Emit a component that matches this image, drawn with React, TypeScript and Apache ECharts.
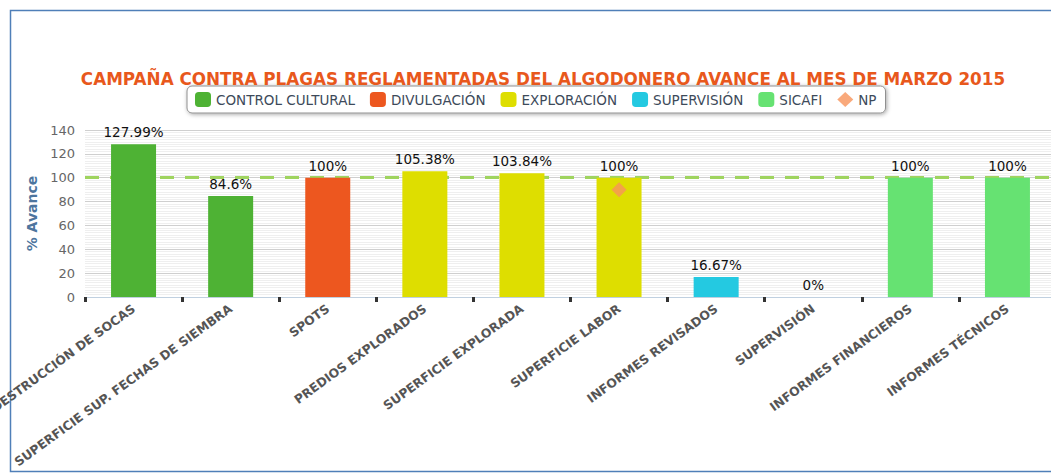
import React, { useEffect, useRef } from "react";
import * as echarts from "echarts";

const categories = [
  "DESTRUCCIÓN DE SOCAS",
  "SUPERFICIE SUP. FECHAS DE SIEMBRA",
  "SPOTS",
  "PREDIOS EXPLORADOS",
  "SUPERFICIE EXPLORADA",
  "SUPERFICIE LABOR",
  "INFORMES REVISADOS",
  "SUPERVISIÓN",
  "INFORMES FINANCIEROS",
  "INFORMES TÉCNICOS",
];

const controlCultural = [127.99, 84.6, "-", "-", "-", "-", "-", "-", "-", "-"];
const divulgacion = ["-", "-", 100, "-", "-", "-", "-", "-", "-", "-"];
const exploracion = ["-", "-", "-", 105.38, 103.84, 100, "-", "-", "-", "-"];
const supervision = ["-", "-", "-", "-", "-", "-", 16.67, 0, "-", "-"];
const sicafi = ["-", "-", "-", "-", "-", "-", "-", "-", 100, 100];
const np = ["-", "-", "-", "-", "-", 90, "-", "-", "-", "-"];
const targetLine = 100;

const FONT = "DejaVu Sans, Verdana, sans-serif";

export default function App() {
  const ref = useRef<HTMLDivElement>(null);
  useEffect(() => {
    document.body.style.margin = "0";
    const chart = echarts.init(ref.current!, null, { renderer: "svg" });
    const barLabel = {
      show: true,
      position: "top",
      color: "#111",
      fontSize: 13.5,
      fontFamily: FONT,
      formatter: (p: any) => `${p.value}%`,
    };
    const mkBar = (name: string, data: any[], color: string) => ({
      name,
      type: "bar",
      data,
      barWidth: 45,
      barGap: "-100%",
      z: 3,
      itemStyle: { color },
      label: barLabel,
    });
    chart.setOption({
      animation: false,
      textStyle: { fontFamily: FONT },
      title: {
        text: "CAMPAÑA CONTRA PLAGAS REGLAMENTADAS DEL ALGODONERO AVANCE AL MES DE MARZO 2015",
        left: 538,
        textAlign: "center",
        top: 65,
        textStyle: { color: "#e8581c", fontSize: 16.8, fontWeight: "bold", fontFamily: FONT },
      },
      legend: {
        top: 86,
        left: 187,
        itemWidth: 16,
        itemHeight: 15,
        itemGap: 15,
        icon: "roundRect",
        padding: [6, 9, 6, 8],
        borderColor: "#909090",
        borderWidth: 1,
        borderRadius: 5,
        backgroundColor: "#fff",
        shadowBlur: 4,
        shadowColor: "rgba(0,0,0,0.35)",
        shadowOffsetX: 1,
        shadowOffsetY: 1,
        textStyle: { color: "#3d4a5a", fontSize: 13.5, fontFamily: FONT, padding: [0, 0, 0, 0] },
        data: [
          { name: "CONTROL CULTURAL" },
          { name: "DIVULGACIÓN" },
          { name: "EXPLORACIÓN" },
          { name: "SUPERVISIÓN" },
          { name: "SICAFI" },
          { name: "NP", icon: "diamond" },
        ],
      },
      grid: {
        left: 85,
        top: 130,
        width: 971,
        height: 167,
        containLabel: false,
        outerBoundsMode: "none",
      },
      xAxis: {
        type: "category",
        data: categories,
        axisLine: { lineStyle: { color: "#c0d0e0", width: 1 } },
        axisTick: { show: true, length: 5, lineStyle: { color: "#333", width: 3 } },
        axisLabel: {
          interval: 0,
          rotate: 36,
          color: "#555",
          fontWeight: "bold",
          fontSize: 12.4,
          fontFamily: FONT,
          margin: 10,
        },
      },
      yAxis: {
        type: "value",
        min: 0,
        max: 140,
        interval: 20,
        name: "% Avance",
        nameLocation: "middle",
        nameGap: 45,
        nameTextStyle: { color: "#4d759e", fontSize: 14, fontWeight: "bold", fontFamily: FONT },
        axisLine: { show: false },
        axisTick: { show: false },
        axisLabel: { color: "#666", fontSize: 13, fontFamily: FONT, margin: 10 },
        splitLine: { lineStyle: { color: "#cfcfcf", width: 1 } },
        minorTick: { show: false, splitNumber: 10 },
        minorSplitLine: { show: true, lineStyle: { color: "#efefef", width: 1 } },
      },
      graphic: [
        {
          type: "rect",
          shape: { x: 10.5, y: 10.5, width: 1100, height: 461 },
          style: { fill: "none", stroke: "#4f7fb8", lineWidth: 1.5 },
          silent: true,
          z: 0,
        },
      ],
      series: [
        {
          name: "target",
          type: "line",
          data: [],
          z: 1,
          markLine: {
            silent: true,
            z: 1,
            symbol: "none",
            label: { show: false },
            lineStyle: { color: "#9fd45f", width: 3, type: [14, 11] },
            data: [{ yAxis: targetLine }],
          },
        },
        mkBar("CONTROL CULTURAL", controlCultural, "#4eb234"),
        mkBar("DIVULGACIÓN", divulgacion, "#ed571f"),
        mkBar("EXPLORACIÓN", exploracion, "#dede00"),
        mkBar("SUPERVISIÓN", supervision, "#24c9e1"),
        mkBar("SICAFI", sicafi, "#66e272"),
        {
          name: "NP",
          type: "scatter",
          data: np,
          symbol: "diamond",
          symbolSize: 15,
          z: 4,
          itemStyle: { color: "#f7945a" },
        },
      ],
    });
    return () => chart.dispose();
  }, []);
  return <div ref={ref} style={{ width: 1051, height: 475 }} />;
}
